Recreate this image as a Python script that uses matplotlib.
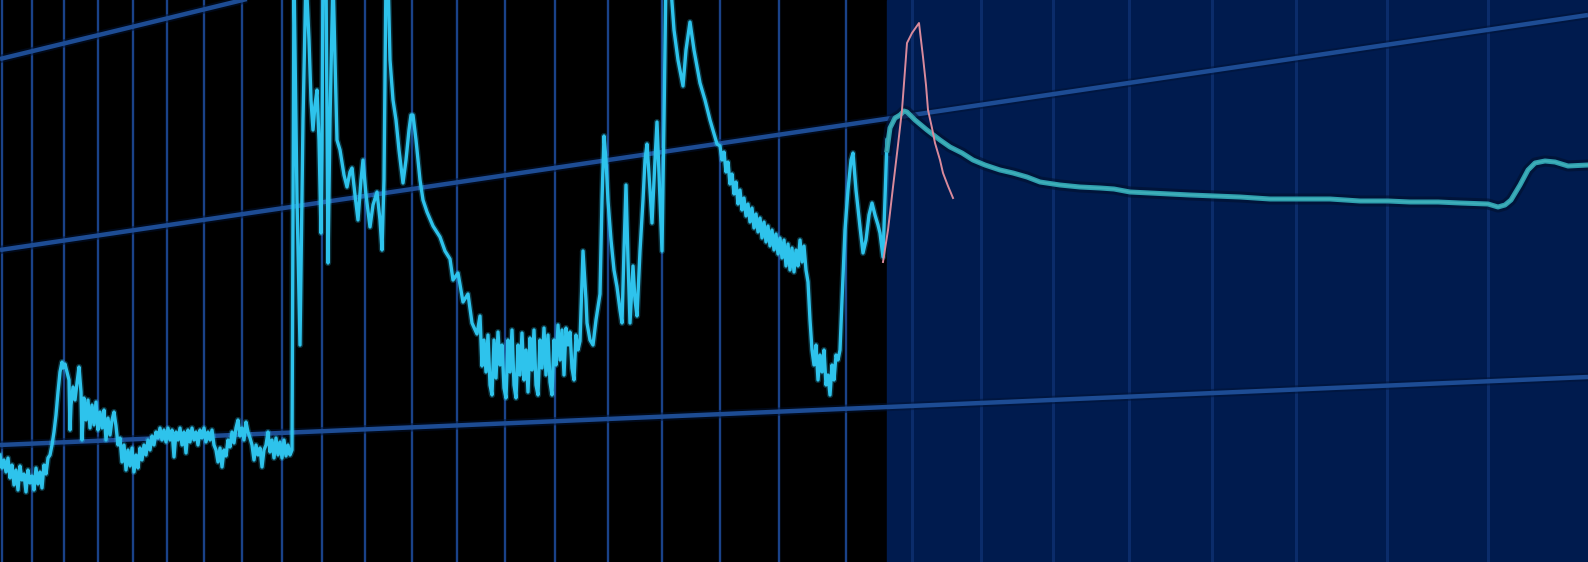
import numpy as np
import matplotlib
matplotlib.use("Agg")
import matplotlib.pyplot as plt

# time axis runs 0..1588, level axis is measured downward from the top (0..562)
X_MAX = 1588
Y_MAX = 562
forecast_start = 887

# vertical time gridlines (spacing widens to the right)
grid_x = [2, 32, 64, 98, 133, 167, 204, 242, 282, 322, 365, 412, 457, 505, 555,
          608, 662, 720, 779, 846, 912, 981, 1053, 1129, 1212, 1296, 1387, 1488]

# three channel / trend lines, given by their level at both ends of the axis
trend_x = [0, X_MAX]
trend_upper = [59, -327]
trend_mid = [250, 15]
trend_lower = [445, 377]

# historical series
hist_x = [
    0, 2, 4, 6, 8, 10, 12, 14, 16, 18, 20, 22, 24, 26, 28, 30, 32, 34, 36, 38, 40, 42, 44, 46, 48,
    50, 52, 54, 56, 58, 60, 62, 63, 65, 67, 69, 70, 71, 73, 75, 77, 79, 81, 82, 84, 86, 88, 90,
    92, 94, 96, 98, 100, 102, 104, 106, 108, 110, 112, 114, 116, 118, 120, 122, 124, 126, 128,
    130, 132, 134, 136, 138, 140, 142, 144, 146, 148, 150, 152, 154, 156, 158, 160, 162, 164,
    166, 168, 170, 172, 174, 176, 178, 180, 182, 184, 186, 188, 190, 192, 194, 196, 198, 200,
    202, 204, 206, 208, 210, 212, 214, 216, 218, 220, 222, 224, 226, 228, 230, 232, 234, 236,
    238, 240, 242, 244, 246, 248, 250, 252, 254, 256, 258, 260, 262, 264, 266, 268, 270, 272,
    274, 276, 278, 280, 282, 284, 286, 288, 290, 292,
    294, 297, 300, 303, 306, 309, 311, 313, 315, 317, 319, 321, 322, 323, 326, 328, 330, 333,
    335, 337, 340, 344, 347, 350, 352, 355, 358, 361, 363, 366, 370, 373, 377, 380, 382, 384,
    386, 388, 390, 393, 396, 399, 403, 406, 409, 411, 413, 416, 420, 423, 427, 433, 440, 445,
    450, 453, 458, 463, 468, 472, 477, 480, 482,
    484, 486, 488, 490, 492, 494, 496, 498, 500, 502, 504, 506, 508, 510, 512, 514, 516, 518,
    520, 522, 524, 526, 528, 530, 532, 534, 536, 538, 540, 542, 544, 546, 548, 550, 552, 554,
    556, 558, 560, 562, 564, 566, 568, 570, 572, 574, 576, 578, 580,
    583, 586, 587, 590, 593, 596, 600, 602, 604, 606, 608, 611, 614, 617, 620, 622, 624, 626,
    628, 630, 633, 635, 637, 640, 643, 645, 647, 650, 652, 655, 657, 660, 662, 664, 666, 670,
    674, 678, 683, 686, 690, 694, 700, 705, 710, 717,
    720, 722, 724, 726, 728, 730, 732, 734, 736, 738, 740, 742, 744, 746, 748, 750, 752, 754,
    756, 758, 760, 762, 764, 766, 768, 770, 772, 774, 776, 778, 780, 782, 784, 786, 788, 790,
    792, 794, 796, 798, 800, 802, 804, 806, 808, 810, 812, 814, 816, 818, 820, 822, 824, 826,
    828, 830, 832, 834, 836, 838, 840, 842, 845, 848, 851, 853, 856, 860, 863, 866, 869, 872,
    875, 878, 880, 883, 885, 887,
]
hist_y = [
    455, 468, 460, 472, 458, 478, 465, 485, 470, 490, 466, 480, 474, 492, 470, 483, 476, 490, 468, 484, 472, 488, 465, 474, 458,
    455, 445, 432, 415, 392, 372, 362, 368, 364, 372, 380, 430, 405, 387, 400, 383, 367, 392, 440, 398, 420, 400, 428,
    405, 425, 402, 430, 412, 428, 410, 440, 418, 435, 420, 412, 426, 445, 438, 462, 445, 470, 450,
    466, 448, 472, 455, 468, 448, 460, 445, 455, 440, 450, 436, 445, 432, 438, 428, 440, 430,
    442, 428, 440, 430, 457, 432, 440, 428, 445, 432, 453, 430, 442, 428, 440, 432, 445, 430,
    438, 428, 442, 432, 440, 430, 445, 450, 462, 448, 467, 450, 456, 440, 447, 432, 443, 428,
    420, 436, 428, 440, 422, 432, 438, 445, 460, 445, 455, 448, 467, 450, 445, 432, 452, 440,
    458, 438, 455, 442, 458, 440, 456, 445, 455, 450,
    -25, 200, 345, 120, -25, 40, 100, 130, 105, 90, 140, 233, 150, -25, -25, 263, 120, -25,
    60, 140, 150, 175, 187, 172, 168, 195, 220, 180, 160, 195, 227, 205, 192, 220, 250, 180,
    -25, -25, 60, 100, 120, 150, 183, 160, 130, 115, 115, 140, 180, 200, 212, 226, 237, 251,
    259, 280, 273, 302, 294, 323, 334, 316, 366,
    340, 372, 335, 385, 395, 340, 378, 332, 365, 345, 388, 398, 340, 372, 330, 385, 398, 345,
    375, 333, 380, 350, 392, 338, 370, 330, 385, 395, 340, 368, 328, 375, 335, 382, 395, 340,
    365, 325, 360, 330, 375, 328, 345, 332, 368, 380, 335, 350, 341,
    251, 300, 323, 340, 345, 320, 294, 200, 136, 160, 201, 240, 270, 287, 310, 323, 250, 185,
    260, 323, 266, 300, 316, 251, 200, 160, 144, 190, 223, 160, 122, 200, 251, 120, -25, -25,
    30, 60, 86, 50, 22, 50, 83, 100, 120, 144,
    146, 160, 152, 172, 162, 184, 174, 194, 182, 204, 190, 210, 198, 216, 204, 222, 208, 228,
    214, 232, 218, 238, 222, 242, 226, 246, 230, 250, 234, 254, 238, 258, 240, 266, 244, 270,
    248, 272, 250, 266, 240, 262, 246, 270, 282, 320, 350, 365, 345, 380, 355, 372, 350, 385,
    375, 395, 365, 380, 355, 360, 350, 300, 230, 190, 160, 153, 190, 227, 253, 240, 215, 203,
    215, 225, 233, 257, 200, 140,
]

# projected path
fcst_x = [887, 890, 895, 900, 904, 907, 915, 927, 940, 950, 962, 973, 985, 1000, 1013, 1027,
          1040, 1060, 1080, 1100, 1114, 1130, 1150, 1170, 1190, 1215, 1240, 1270, 1300, 1330,
          1360, 1388, 1410, 1438, 1460, 1488, 1498, 1505, 1511, 1520, 1528, 1535, 1545, 1555,
          1568, 1588]
fcst_y = [150, 128, 118, 115, 111, 112, 120, 130, 140, 147, 153, 160, 165, 170, 173, 177,
          182, 185, 187, 188, 189, 192, 193, 194, 195, 196, 197, 199, 199, 199,
          201, 201, 202, 202, 203, 204, 207, 205, 200, 185, 170, 163, 161, 162,
          166, 165]

# alternative short-term scenario
alt_x = [883, 888, 893, 898, 902, 905, 907, 912, 919, 921, 923, 926, 928, 932, 935, 940, 943, 948, 953]
alt_y = [262, 230, 187, 145, 110, 70, 43, 33, 23, 40, 57, 85, 110, 128, 143, 160, 173, 186, 198]

fig = plt.figure(figsize=(15.88, 5.62), dpi=100)
fig.patch.set_facecolor("black")
ax = fig.add_axes([0, 0, 1, 1])
ax.set_facecolor("black")
ax.set_xlim(0, X_MAX)
ax.set_ylim(Y_MAX, 0)
ax.axis("off")

# forecast zone
ax.axvspan(forecast_start, X_MAX, color="#001b4e", zorder=0)

for gx in grid_x:
    if gx < forecast_start:
        ax.axvline(gx, color="#1a4288", lw=1.7, zorder=1)
    else:
        ax.axvline(gx, color="#0b2c6a", lw=2.2, zorder=1)

for ty in (trend_upper, trend_mid, trend_lower):
    ax.plot(trend_x, ty, color="#001233", lw=6, alpha=0.5, zorder=2, solid_capstyle="butt")
    ax.plot(trend_x, ty, color="#1d4c94", lw=3.2, zorder=3, solid_capstyle="butt")

# soft glow under the historical line, then the line itself
ax.plot(hist_x, hist_y, color="#2ec3ec", lw=4.5, alpha=0.25, zorder=4, solid_joinstyle="round")
ax.plot(hist_x, hist_y, color="#2ec3ec", lw=2.4, zorder=5, solid_joinstyle="round")

ax.plot(fcst_x, fcst_y, color="#00102e", lw=8, alpha=0.6, zorder=4)
ax.plot(fcst_x, fcst_y, color="#2f9fae", lw=3.6, zorder=5)
ax.plot(fcst_x, fcst_y, color="#4fc0c6", lw=1.4, alpha=0.5, zorder=6)

ax.plot(alt_x, alt_y, color="#d98a9c", lw=1.4, zorder=6)

fig.savefig("out.png", dpi=100, facecolor="black")
